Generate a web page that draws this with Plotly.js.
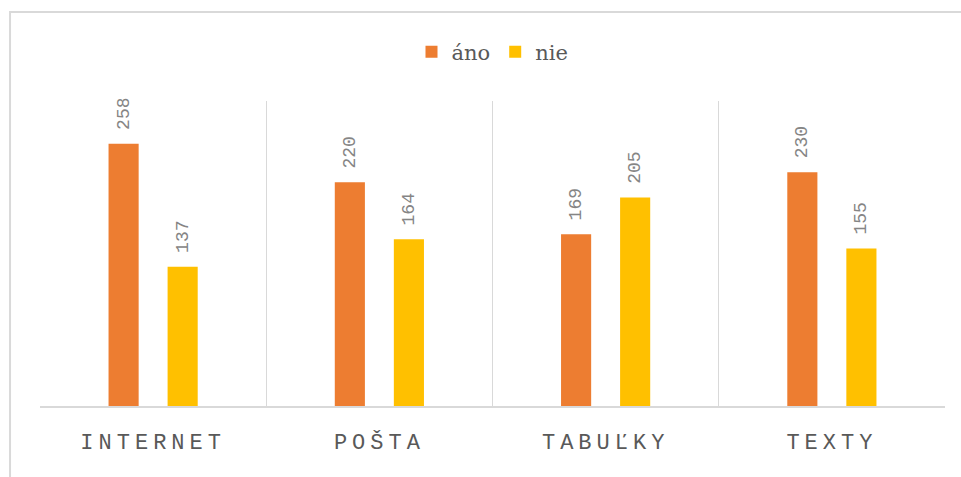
<!DOCTYPE html>
<html>
<head>
<meta charset="utf-8">
<script src="https://cdn.plot.ly/plotly-3.0.1.min.js"></script>
<style>
  html, body { margin: 0; padding: 0; background: #ffffff; }
  #chart { width: 961px; height: 477px; }
  .xtick text { letter-spacing: 5px; }
</style>
</head>
<body>
<div id="chart"></div>
<script>
const categories = ["INTERNET", "POŠTA", "TABUĽKY", "TEXTY"];
const seriesNames = ["áno", "nie"];
const anoValues = [258, 220, 169, 230];
const nieValues = [137, 164, 205, 155];
const seriesColors = ["#ED7D31", "#FFC000"];

const labelFont = { family: "Liberation Mono, monospace", size: 18, color: "#858585" };

function barTrace(name, values, color) {
  return {
    type: "bar",
    name: name,
    x: categories,
    y: values,
    marker: { color: color },
    text: values.map(String),
    texttemplate: "\u00a0%{y}",
    textposition: "outside",
    textangle: -90,
    constraintext: "none",
    textfont: labelFont,
    cliponaxis: false,
    hoverinfo: "x+y+name"
  };
}

const data = [
  barTrace(seriesNames[0], anoValues, seriesColors[0]),
  barTrace(seriesNames[1], nieValues, seriesColors[1])
];

const layout = {
  width: 961,
  height: 477,
  margin: { l: 40, r: 16, t: 101, b: 71 },
  paper_bgcolor: "#ffffff",
  plot_bgcolor: "#ffffff",
  barmode: "group",
  bargap: 0.478,
  bargroupgap: 0.49,
  showlegend: true,
  legend: {
    orientation: "h",
    x: 0.5,
    xanchor: "center",
    y: 1.16,
    yanchor: "middle",
    font: { family: "DejaVu Serif, serif", size: 21, color: "#595959" },
    itemwidth: 30,
    traceorder: "normal"
  },
  xaxis: {
    type: "category",
    tickson: "boundaries",
    showgrid: true,
    gridcolor: "#d9d9d9",
    gridwidth: 1,
    showline: true,
    linecolor: "#d9d9d9",
    linewidth: 1.5,
    ticks: "",
    ticklabelstandoff: 15,
    tickfont: { family: "Liberation Mono, monospace", size: 22, color: "#595959" },
    automargin: false,
    fixedrange: true
  },
  yaxis: {
    range: [0, 300],
    showgrid: false,
    showticklabels: false,
    zeroline: false,
    showline: false,
    ticks: "",
    automargin: false,
    fixedrange: true
  },
  shapes: [
    {
      type: "rect",
      xref: "paper", yref: "paper",
      x0: -0.0331, x1: 1.5,
      y0: -0.5, y1: 1.2918,
      line: { color: "#d9d9d9", width: 2 },
      fillcolor: "rgba(0,0,0,0)",
      layer: "below"
    }
  ]
};

Plotly.newPlot("chart", data, layout, { displayModeBar: false, staticPlot: false });
</script>
</body>
</html>
